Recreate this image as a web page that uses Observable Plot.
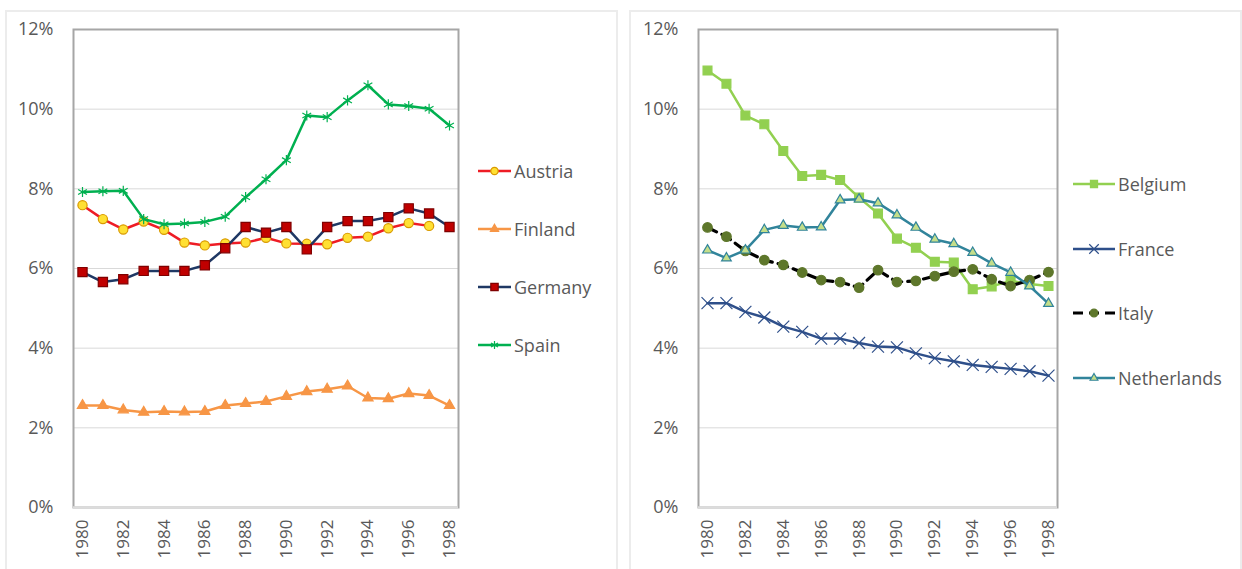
<!DOCTYPE html>
<html><head><meta charset="utf-8">
<script src="https://cdn.jsdelivr.net/npm/d3@7"></script>
<script src="https://cdn.jsdelivr.net/npm/@observablehq/plot@0.6"></script>
<style>
body{margin:0;width:1242px;height:569px;overflow:hidden;background:#fff;font-family:"Open Sans",sans-serif;position:relative}
.panel{position:absolute;top:10px;height:600px;border:2px solid #ececec;box-sizing:border-box}
.chart{position:absolute;top:0}
.legend{position:absolute;left:0;top:0;font-size:18px;color:#595959}
.item{position:absolute;display:flex;align-items:center;white-space:nowrap;transform:translateY(-50%)}
.item svg{margin-right:3px;overflow:visible}
</style></head><body>
<div class="panel" style="left:5px;width:613px"></div>
<div class="panel" style="left:629px;width:613px"></div>
<div id="left" class="chart" style="left:0px"></div>
<div id="right" class="chart" style="left:625px"></div>
<div id="legL" class="legend"></div>
<div id="legR" class="legend"></div>
<script>
// ---- data (percent) ----
const years = [1980,1981,1982,1983,1984,1985,1986,1987,1988,1989,1990,1991,1992,1993,1994,1995,1996,1997,1998];
const xTicks = [1980,1982,1984,1986,1988,1990,1992,1994,1996,1998];
const yTicks = [0,2,4,6,8,10,12];

const austria = [7.59,7.24,6.98,7.18,6.97,6.65,6.58,6.63,6.65,6.77,6.63,6.62,6.61,6.77,6.80,7.01,7.14,7.07,null];
const finland = [2.56,2.56,2.45,2.39,2.41,2.40,2.41,2.56,2.61,2.66,2.79,2.91,2.97,3.05,2.75,2.73,2.86,2.81,2.56];
const germany = [5.91,5.66,5.73,5.94,5.94,5.94,6.08,6.51,7.04,6.90,7.04,6.48,7.04,7.19,7.19,7.29,7.51,7.38,7.04];
const spain   = [7.92,7.94,7.95,7.24,7.11,7.13,7.17,7.30,7.79,8.24,8.72,9.84,9.80,10.22,10.60,10.12,10.08,10.01,9.59];

const belgium     = [10.97,10.64,9.84,9.62,8.95,8.32,8.35,8.22,7.78,7.38,6.75,6.52,6.17,6.15,5.48,5.55,5.69,5.61,5.56];
const france      = [5.13,5.13,4.91,4.77,4.54,4.41,4.24,4.24,4.13,4.04,4.02,3.87,3.75,3.67,3.58,3.53,3.48,3.42,3.31];
const italy       = [7.03,6.80,6.44,6.21,6.09,5.90,5.71,5.66,5.52,5.96,5.66,5.69,5.81,5.92,5.98,5.73,5.56,5.71,5.91];
const netherlands = [6.46,6.26,6.46,6.97,7.08,7.03,7.04,7.72,7.74,7.64,7.34,7.03,6.73,6.62,6.40,6.13,5.90,5.56,5.12];

// ---- series styling ----
const leftSeries = [
  {name:"Austria", values:austria, color:"#EE1C25", symbol:"circle", fill:"#FFE033", mstroke:"#D99A00", r:4.6},
  {name:"Finland", values:finland, color:"#F79646", symbol:"triangle", fill:"#F79646", mstroke:"#F79646", r:3.8},
  {name:"Germany", values:germany, color:"#1F3864", symbol:"square", fill:"#C00000", mstroke:"#7F0000", r:5.2},
  {name:"Spain",   values:spain,   color:"#00B050", symbol:"asterisk", fill:"none", mstroke:"#00B050", r:4.8}
];
const rightSeries = [
  {name:"Belgium",     values:belgium,     color:"#92D050", symbol:"square", fill:"#92D050", mstroke:"#92D050", r:5.0},
  {name:"France",      values:france,      color:"#2E4F8A", symbol:"times", fill:"none", mstroke:"#2E4F8A", r:5.5},
  {name:"Italy",       values:italy,       color:"#000000", symbol:"circle", fill:"#5E772B", mstroke:"#5E772B", r:4.8, dash:"10,6", width:3.2},
  {name:"Netherlands", values:netherlands, color:"#31849B", symbol:"triangle", fill:"#C4DE8A", mstroke:"#31849B", r:3.6}
];

function makePanel(series, width, marginRight) {
  const marks = [
    Plot.gridY(yTicks, {stroke:"#d9d9d9", strokeOpacity:1, strokeWidth:1}),
    Plot.frame({stroke:"#a6a6a6", strokeWidth:2}),
    Plot.ruleY([0], {stroke:"#dcdcdc", strokeWidth:2.5}),
    Plot.axisY(yTicks, {tickSize:0, tickPadding:20, tickFormat:d => d + "%", fontSize:18, fill:"#595959", label:null}),
    Plot.axisX(xTicks, {tickSize:0, tickPadding:12, tickRotate:-90, tickFormat:d => String(d), fontSize:17, fill:"#595959", label:null})
  ];
  for (const s of series) {
    const d = years.map((yr, i) => ({year:yr, value:s.values[i]}));
    marks.push(Plot.line(d, {x:"year", y:"value", stroke:s.color, strokeWidth:s.width || 2.5, strokeDasharray:s.dash, strokeLinejoin:"round"}));
    marks.push(Plot.dot(d.filter(p => p.value != null), {x:"year", y:"value", symbol:s.symbol, r:s.r, fill:s.fill, stroke:s.mstroke, strokeWidth:1.2}));
  }
  return Plot.plot({
    width, height:569,
    marginLeft:73, marginRight, marginTop:29, marginBottom:62,
    x:{domain:[1980,1998], inset:9},
    y:{domain:[0,12]},
    style:{fontFamily:"'Open Sans', sans-serif", fontSize:"18px", background:"transparent", overflow:"visible"},
    marks
  });
}

document.getElementById("left").append(makePanel(leftSeries, 620, 162));
document.getElementById("right").append(makePanel(rightSeries, 617, 185));

const symMap = {circle:d3.symbolCircle, triangle:d3.symbolTriangle, square:d3.symbolSquare, asterisk:d3.symbolAsterisk, times:d3.symbolTimes};
function legend(el, series, left, top0, step, sw) {
  series.forEach((s, i) => {
    const item = document.createElement("div");
    item.className = "item";
    item.style.left = left + "px";
    item.style.top = (top0 + i * step) + "px";
    const r = s.r * 0.8;
    const path = d3.symbol().type(symMap[s.symbol]).size(Math.PI * r * r)();
    item.innerHTML = `<svg width="${sw}" height="14"><line x1="0" x2="${sw}" y1="7" y2="7" stroke="${s.color}" stroke-width="${s.width || 2.5}" ${s.dash ? `stroke-dasharray="${s.dash}"` : ""}/><path transform="translate(${sw/2},7)" d="${path}" fill="${s.fill}" stroke="${s.mstroke}" stroke-width="1.2"/></svg><span>${s.name}</span>`;
    el.append(item);
  });
}
legend(document.getElementById("legL"), leftSeries, 478, 171, 58, 33);
legend(document.getElementById("legR"), rightSeries, 1073, 184, 64.7, 42);
</script>
</body></html>
